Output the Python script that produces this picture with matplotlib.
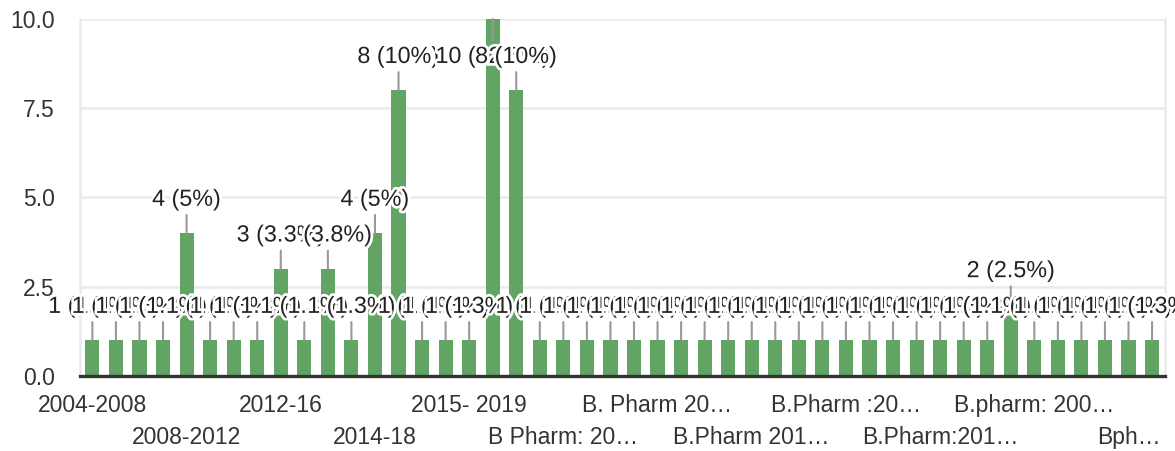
import math
import matplotlib
matplotlib.use("Agg")
import matplotlib.pyplot as plt
import matplotlib.patheffects as pe

plt.rcParams['font.family'] = ['Liberation Sans', 'DejaVu Sans']

# number of records per group (46 groups, only every 4th named on the axis)
counts = [1, 1, 1, 1, 4, 1, 1, 1, 3, 1, 3, 1, 4, 8, 1, 1, 1, 10, 8, 1,
          1, 1, 1, 1, 1, 1, 1, 1, 1, 1, 1, 1, 1, 1, 1, 1, 1, 1, 1, 2,
          1, 1, 1, 1, 1, 1]
upper_labels = ['2004-2008', '2012-16', '2015- 2019', 'B. Pharm 20\u2026',
                'B.Pharm :20\u2026', 'B.pharm: 200\u2026']
lower_labels = ['2008-2012', '2014-18', 'B Pharm: 20\u2026', 'B.Pharm 201\u2026',
                'B.Pharm:201\u2026', 'Bph\u2026']

BAR = '#62a464'
GRID = '#ebebeb'
TXT = '#333333'


def pct_label(v, total):
    # round half up, drop trailing zeros
    p = math.floor(1000.0 * v / total + 0.5) / 10.0
    s = ('%.1f' % p).rstrip('0').rstrip('.')
    return '%d (%s%%)' % (v, s)


fig = plt.figure(figsize=(11.75, 4.51), dpi=100)
ax = fig.add_axes([0.068, 0.1663, 0.9235, 0.7916])

x = list(range(len(counts)))
ax.bar(x, counts, width=0.6, color=BAR, zorder=2)

ax.set_xlim(-0.53, len(counts) - 0.45)
ax.set_ylim(0, 10)
ax.set_yticks([0, 2.5, 5, 7.5, 10])
ax.set_yticklabels(['%.1f' % t for t in [0, 2.5, 5, 7.5, 10]])
ax.yaxis.grid(True, color=GRID, linewidth=1.8, zorder=0)
ax.set_axisbelow(True)
ax.tick_params(axis='y', length=0, pad=18, labelsize=16.5, labelcolor=TXT)

ax.set_xticks(list(range(0, len(counts), 8)))
ax.set_xticklabels(upper_labels)
ax.set_xticks(list(range(4, len(counts), 8)), minor=True)
ax.set_xticklabels(lower_labels, minor=True)
ax.tick_params(axis='x', which='major', length=0, pad=13, labelsize=16.5, labelcolor=TXT)
ax.tick_params(axis='x', which='minor', length=0, pad=36, labelsize=16.5, labelcolor=TXT)

for side in ['left', 'right']:
    ax.spines[side].set_color(GRID)
    ax.spines[side].set_linewidth(1.8)
ax.spines['top'].set_visible(False)
ax.spines['bottom'].set_color('#333333')
ax.spines['bottom'].set_linewidth(2.4)

total = sum(counts)
for i, v in enumerate(counts):
    ty = v + 0.95
    if ty > 8.95:
        ty = 8.95
    ax.annotate(pct_label(v, total), xy=(i, v), xytext=(i, ty),
                textcoords='data', ha='center', va='center',
                fontsize=16.8, color='#222222', zorder=5,
                annotation_clip=False,
                arrowprops=dict(arrowstyle='-', color='#999999', lw=1.5,
                                shrinkA=1, shrinkB=0),
                path_effects=[pe.withStroke(linewidth=4, foreground='white')])

fig.savefig('out.png', dpi=100)
